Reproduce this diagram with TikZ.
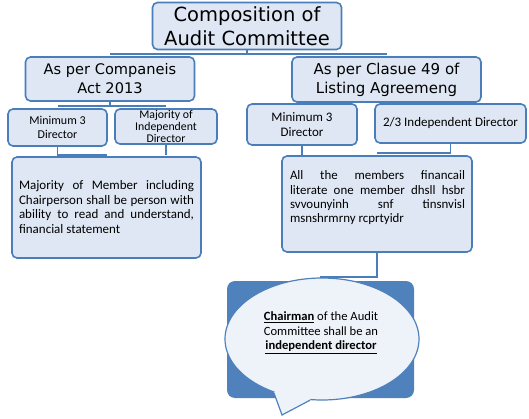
\documentclass[tikz,border=0pt]{standalone}
\usepackage{fontspec}
\setmainfont{Carlito}
\newfontfamily\headfont{DejaVu Sans}
\usetikzlibrary{shapes.geometric}
\definecolor{boxline}{HTML}{4A7EBB}
\definecolor{boxfill}{HTML}{DEE7F3}
\definecolor{callblue}{HTML}{4F81BD}
\definecolor{callfill}{HTML}{EEF2F9}
\hyphenpenalty=10000
\exhyphenpenalty=10000

\begin{document}
\begin{tikzpicture}[x=1pt, y=-1pt]
  \tikzset{BoxStyle/.style = {
  shape = rectangle,
  rounded corners = 5pt,
  fill = boxfill,
  draw = boxline,
  line width = 1.6pt,
  inner sep = 0pt,
  align = center}}
  \tikzset{LinkStyle/.style = {
  draw = boxline,
  line width = 1.3pt}}
  \tikzset{NoteStyle/.style = {
  text width = 175pt,
  align = justify,
  inner sep = 0pt,
  font = \fontsize{13}{14.8}\selectfont}}
  \useasboundingbox (0,0) rectangle (529,419);
  \node[BoxStyle, minimum width=189pt, minimum height=47pt,
    font=\headfont\fontsize{19.5}{24}\selectfont] (top) at (247,26) {Composition of\\Audit Committee};
  \node[BoxStyle, minimum width=169pt, minimum height=44pt,
    font=\headfont\fontsize{14.6}{19}\selectfont] (mleft) at (110,79) {As per Companeis\\Act 2013};
  \node[BoxStyle, minimum width=189pt, minimum height=45pt,
    font=\headfont\fontsize{15}{19}\selectfont] (mright) at (386.5,79.5) {As per Clasue 49 of\\Listing Agreemeng};
  \node[BoxStyle, minimum width=99pt, minimum height=37pt,
    font=\fontsize{12}{14}\selectfont] (lmin) at (57.5,127.5) {Minimum 3\\Director};
  \node[BoxStyle, minimum width=102pt, minimum height=35pt,
    font=\fontsize{11.8}{12}\selectfont] (lmaj) at (166,126.5) {Majority of\\Independent\\Director};
  \node[BoxStyle, minimum width=110pt, minimum height=41pt,
    font=\fontsize{13}{15}\selectfont] (rmin) at (302,124.5) {Minimum 3\\Director};
  \node[BoxStyle, minimum width=151pt, minimum height=39pt,
    font=\fontsize{13}{15}\selectfont] (rind) at (450.5,123.5) {2/3 Independent Director};
  \node[BoxStyle, minimum width=189pt, minimum height=101pt] (lbig) at (106.5,207.5) {};
  \node[BoxStyle, minimum width=190pt, minimum height=96pt] (rbig) at (377,204) {};
  \node[NoteStyle] (lnote) at (106.5,207) {Majority of Member including\linebreak Chairperson shall be person with\linebreak ability to read and understand,\linebreak financial statement};
  \node[NoteStyle, font=\fontsize{12.9}{14.3}\selectfont] (rnote) at (377.5,198) {All the members financail\linebreak literate one member dhsll hsbr\linebreak svvounyinh snf tinsnvisl\linebreak msnshrmrny rcprtyidr};
  \coordinate (topjoin) at (247,54);
  \coordinate (ljoin) at (110,106);
  \coordinate (lbjoin) at (106.5,155);
  \coordinate (rbjoin) at (377,153);
  \coordinate (calljoin) at (320,277);
  \draw[LinkStyle] (top.south) -- (topjoin);
  \draw[LinkStyle] (mleft.north |- topjoin) -- (mright.north |- topjoin);
  \draw[LinkStyle] (mleft.south) -- (ljoin);
  \draw[LinkStyle] (lmin.north |- ljoin) -- (lmaj.north |- ljoin);
  \draw[LinkStyle] (lmin.south) |- (lbjoin);
  \draw[LinkStyle] (lmaj.south) -- (lmaj.south |- lbjoin);
  \draw[LinkStyle] (rmin.south) -- (rmin.south |- rbig.north);
  \draw[LinkStyle] (rind.south) |- (rbjoin);
  \draw[LinkStyle] (rbig.south) |- (calljoin);
  \node[fill=callblue, rounded corners=8pt, minimum width=187pt, minimum height=117pt] (callbox) at (320.5,339.5) {};
  \node[ellipse, fill=callfill, draw=callblue, line width=1.2pt, minimum width=194pt,
    minimum height=122pt, inner sep=0pt] (bubble) at (322,339) {};
  \coordinate (tip) at (282,415);
  \fill[callfill] (bubble.228) -- (tip) -- (bubble.259) -- (bubble.center) -- cycle;
  \draw[callblue, line width=1.2pt] (bubble.228) -- (tip) -- (bubble.259);
  \node[align=center, inner sep=0pt, font=\fontsize{12.6}{14.5}\selectfont] (chair) at (321,333)
    {\underline{\textbf{Chairman}} of the Audit\\Committee shall be an\\\underline{\textbf{independent director}}};
\end{tikzpicture}
\end{document}
